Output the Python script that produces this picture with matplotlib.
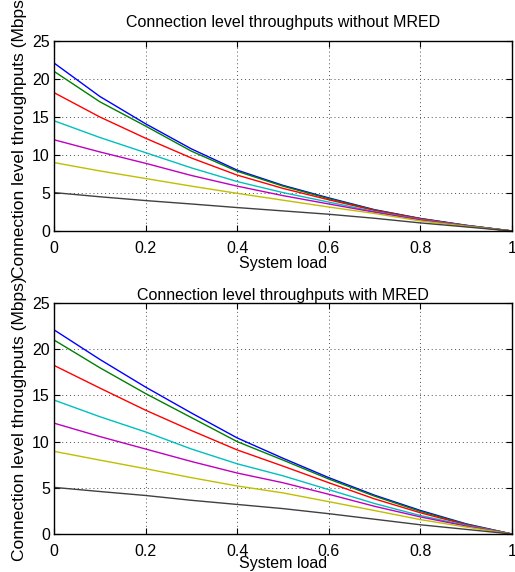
import numpy as np
import matplotlib
matplotlib.use("Agg")
import matplotlib.pyplot as plt

plt.rcParams['font.family'] = ['Liberation Sans', 'DejaVu Sans']

load = [0, 0.1, 0.2, 0.3, 0.4, 0.5, 0.6, 0.7, 0.8, 0.9, 1.0]

# without MRED (top panel)
top_b = [22.1, 17.7, 14.1, 10.8, 8.0, 6.0, 4.35, 2.8, 1.65, 0.75, 0]
top_g = [21.0, 17.0, 13.8, 10.5, 7.85, 5.9, 4.25, 2.75, 1.62, 0.73, 0]
top_r = [18.2, 15.0, 12.2, 9.6, 7.35, 5.6, 4.1, 2.7, 1.6, 0.71, 0]
top_c = [14.5, 12.3, 10.3, 8.3, 6.5, 5.05, 3.8, 2.55, 1.5, 0.68, 0]
top_m = [12.0, 10.4, 8.9, 7.3, 5.9, 4.65, 3.55, 2.47, 1.45, 0.65, 0]
top_y = [9.0, 7.9, 6.9, 5.9, 4.95, 4.05, 3.15, 2.3, 1.32, 0.62, 0]
top_k = [5.05, 4.5, 4.0, 3.55, 3.08, 2.64, 2.2, 1.67, 1.06, 0.53, 0]

# with MRED (bottom panel)
bot_b = [22.1, 18.9, 15.9, 13.1, 10.4, 8.2, 6.1, 4.2, 2.55, 1.1, 0]
bot_g = [21.0, 18.0, 15.2, 12.6, 10.0, 8.0, 5.95, 4.1, 2.45, 1.05, 0]
bot_r = [18.25, 15.8, 13.4, 11.2, 9.1, 7.35, 5.55, 3.8, 2.3, 1.0, 0]
bot_c = [14.5, 12.7, 11.05, 9.2, 7.6, 6.3, 4.8, 3.3, 2.0, 0.93, 0]
bot_m = [12.0, 10.55, 9.2, 7.85, 6.6, 5.55, 4.3, 3.0, 1.85, 0.86, 0]
bot_y = [8.95, 8.0, 7.07, 6.1, 5.2, 4.45, 3.5, 2.54, 1.56, 0.75, 0]
bot_k = [5.05, 4.6, 4.17, 3.65, 3.2, 2.75, 2.2, 1.6, 1.0, 0.5, 0]

colors = [(0, 0, 1), (0, 0.5, 0), (1, 0, 0), (0, 0.75, 0.75),
          (0.75, 0, 0.75), (0.75, 0.75, 0), (0.25, 0.25, 0.25)]

fig = plt.figure(figsize=(5.15, 5.72), dpi=100)
ax1 = fig.add_axes([0.1049, 0.5962, 0.8893, 0.3322])
ax2 = fig.add_axes([0.1049, 0.0664, 0.8893, 0.4038])

panels = [
    (ax1, [top_b, top_g, top_r, top_c, top_m, top_y, top_k],
     'Connection level throughputs without MRED', 10, 0),
    (ax2, [bot_b, bot_g, bot_r, bot_c, bot_m, bot_y, bot_k],
     'Connection level throughputs with MRED', 2, -2),
]

for ax, series, title, tpad, xpad in panels:
    for s, col in zip(series, colors):
        ax.plot(load, s, color=col, linewidth=1.0)
    ax.set_xlim(0, 1)
    ax.set_ylim(0, 25)
    ax.set_xticks([0, 0.2, 0.4, 0.6, 0.8, 1])
    ax.set_xticklabels(['0', '0.2', '0.4', '0.6', '0.8', '1'])
    ax.set_yticks([0, 5, 10, 15, 20, 25])
    ax.grid(True, linestyle=(0, (1, 3)), color='0.3', linewidth=0.7)
    ax.tick_params(direction='in', top=True, right=True, length=4,
                   labelsize=11.5)
    ax.tick_params(axis='x', pad=7)
    ax.tick_params(axis='y', pad=3)
    for sp in ax.spines.values():
        sp.set_linewidth(1.0)
    ax.set_title(title, fontsize=11.5, pad=tpad)
    ax.set_xlabel('System load', fontsize=11.5, labelpad=xpad)
    ax.set_ylabel('Connection level throughputs (Mbps)', fontsize=12.5,
                  labelpad=4)

fig.savefig('out.png', dpi=100)
